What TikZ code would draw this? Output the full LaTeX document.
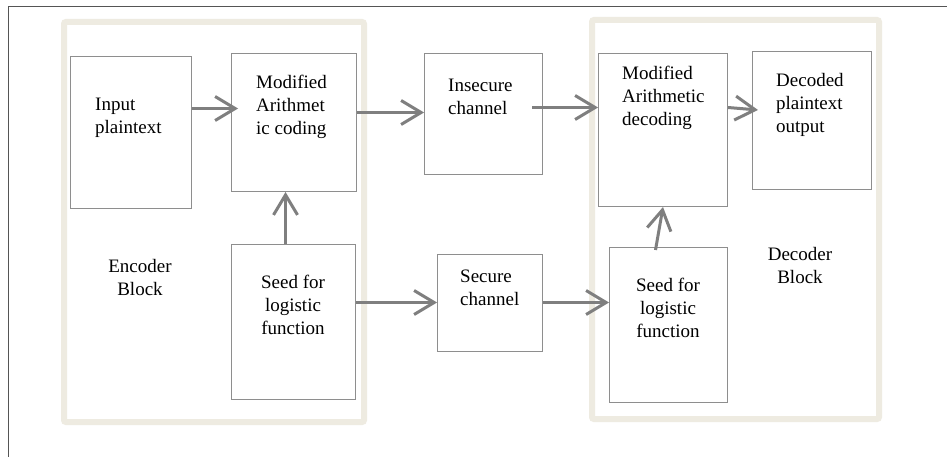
\documentclass[tikz,border=0pt]{standalone}
\usepackage{fontspec}
\setmainfont{Liberation Serif}
\usetikzlibrary{arrows.meta}
\definecolor{boxline}{HTML}{8E8E8E}
\definecolor{flow}{HTML}{7F7F7F}
\definecolor{blockline}{HTML}{EEEBE1}
\definecolor{frameline}{HTML}{555555}
\tikzset{
  box/.style={draw=boxline, line width=1pt, anchor=north west, inner sep=0pt},
  % multi-line labels: the base anchor sits on the last line
  lbl/.style={inner sep=0pt, font=\fontsize{19}{23}\selectfont, align=left, anchor=base west},
  clbl/.style={inner sep=0pt, font=\fontsize{19}{23}\selectfont, align=center, anchor=base},
  flowarrow/.style={draw=flow, line width=3pt,
    -{Straight Barb[length=20pt, width=24pt, line width=3pt]}},
  block/.style={draw=blockline, line width=6pt, rounded corners=2pt},
}
\begin{document}
\begin{tikzpicture}[x=1pt, y=-1pt]
\useasboundingbox (0,0) rectangle (947,457);
\fill[white] (0,0) rectangle (947,457);

% outer frame (only top and left edges lie inside the page)
\draw[frameline, line width=1pt] (8,457) -- (8,7) -- (947,7);

% encoder and decoder blocks
\draw[block] (64,22) rectangle (364,422);
\draw[block] (592,20) rectangle (879,419);

% processing boxes
\node[box, minimum width=121pt, minimum height=152pt] (inp) at (70,56) {};
\node[box, minimum width=125pt, minimum height=138pt] (mac) at (231,53) {};
\node[box, minimum width=124pt, minimum height=155pt] (sde) at (231,244) {};
\node[box, minimum width=118pt, minimum height=121pt] (ins) at (424,53) {};
\node[box, minimum width=105pt, minimum height=97pt]  (sec) at (437,254) {};
\node[box, minimum width=129pt, minimum height=153pt] (mad) at (598,53) {};
\node[box, minimum width=119pt, minimum height=138pt] (dec) at (752,51) {};
\node[box, minimum width=118pt, minimum height=155pt] (sdd) at (609,247) {};

% labels (positions give the baseline of the last line)
\node[lbl] (inpText) at (95,134) {Input\\plaintext};
\node[lbl] (macText) at (256,135) {Modified\\Arithmet\\ic coding};
\node[clbl] (encText) at (140,295) {Encoder\\Block};
\node[clbl] (sdeText) at (293,334) {Seed for\\logistic\\function};
\node[lbl] (insText) at (448,115) {Insecure\\channel};
\node[lbl] (secText) at (460,305) {Secure\\channel};
\node[lbl] (madText) at (622,126) {Modified\\Arithmetic\\decoding};
\node[lbl] (decText) at (776,133) {Decoded\\plaintext\\output};
\node[clbl] (sddText) at (668,337) {Seed for\\logistic\\function};
\node[clbl] (dbkText) at (800,283) {Decoder\\Block};

% data flow
\draw[flowarrow, shorten >=-7pt] ([yshift=24pt]inp.east) -- ([yshift=14pt]mac.west);
\draw[flowarrow] ([yshift=10pt]mac.east) -- ([yshift=1.5pt]ins.west);
\draw[flowarrow, shorten <=-11pt] ([yshift=6.5pt]ins.east) -- ([yshift=22.5pt]mad.west);
\draw[flowarrow, shorten >=-6pt] ([yshift=22.5pt]mad.east) -- ([yshift=11pt]dec.west);
\draw[flowarrow] ([xshift=-8pt]sde.north) -- ([xshift=-8.5pt]mac.south);
\draw[flowarrow] ([yshift=19.5pt]sde.east) -- ([yshift=0.5pt]sec.west);
\draw[flowarrow] ([yshift=0.5pt]sec.east) -- ([yshift=22.5pt]sdd.west);
\draw[flowarrow] ([xshift=-13pt, yshift=-3pt]sdd.north) -- (mad.south);
\end{tikzpicture}
\end{document}
